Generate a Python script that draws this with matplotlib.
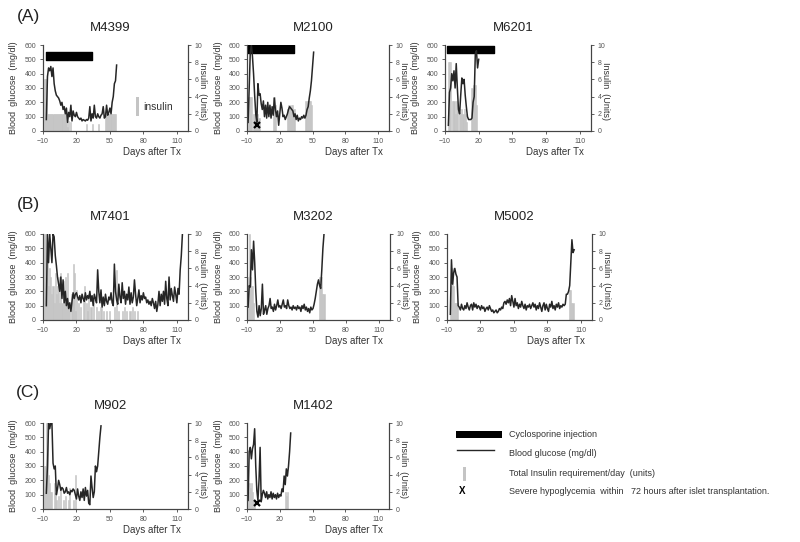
import numpy as np
import matplotlib
matplotlib.use("Agg")
import matplotlib.pyplot as plt
from matplotlib.patches import Rectangle
from matplotlib.lines import Line2D

plt.rcParams['font.family'] = ['Liberation Sans', 'DejaVu Sans']

# blood glucose (mg/dl), one value per day starting at *_g0
# insulin (units/day), one value per day starting at *_i0
m4399_g0 = -7
m4399_glucose = [80, 380, 440, 420, 450, 380, 440, 330, 280, 250, 240, 230, 210, 180, 200, 150,
                 170, 120, 160, 60, 130, 100, 180, 70, 140, 110, 100, 130, 100, 90, 80, 90, 70,
                 80, 75, 70, 80, 75, 90, 170, 70, 120, 90, 180, 100, 90, 120, 100, 90, 110, 120,
                 170, 90, 100, 180, 110, 130, 160, 120, 200, 240, 330, 350, 460]
m4399_i0 = -9
m4399_insulin = [6, 6, 6, 2, 2, 2, 2, 2, 2, 2, 2, 2, 2, 2, 2, 2, 2, 2, 2, 2, 1, 0.5, 1.2, 0, 1,
                 0, 0, 0, 0, 0, 0, 0, 0, 0, 0, 0, 0, 0, 0.8, 0, 0, 0, 0, 0.8, 0, 0, 0, 0, 0, 0.8,
                 0, 0, 0, 0, 0, 2, 2, 2, 2, 2, 2, 2, 2, 2, 2]
m4399_cyclo = (-7, 34)

m2100_g0 = -9
m2100_glucose = [60, 300, 550, 600, 520, 400, 250, 120, 60, 330, 250, 260, 190, 150, 210, 100,
                 180, 90, 200, 100, 180, 90, 170, 110, 230, 150, 100, 140, 40, 120, 200, 160,
                 100, 110, 80, 100, 120, 150, 170, 160, 150, 140, 100, 120, 80, 110, 70, 90, 80,
                 100, 90, 110, 90, 110, 150, 170, 230, 280, 350, 450, 550]
m2100_i0 = -9
m2100_insulin = [4, 4, 4, 4, 0, 2, 2, 2, 2, 2, 1.5, 0, 0, 0, 0, 0, 0, 0, 0, 0, 0, 0, 0, 4, 4, 3,
                 0, 0, 0, 0, 0, 0, 0, 0, 0, 0, 2.5, 3, 3, 2.5, 3, 3, 2.5, 0, 0, 0, 0, 0, 0, 0, 0,
                 0, 0, 3.5, 3.5, 3.5, 3.5, 3.5, 3]
m2100_cyclo = (-9, 33)
m2100_hypo = (-1, 40)

m6201_g0 = -7
m6201_glucose = [40, 270, 300, 400, 350, 420, 300, 470, 300, 150, 120, 250, 370, 330, 360, 250,
                 170, 100, 80, 80, 80, 90, 200, 240, 540, 560, 440, 500]
m6201_i0 = -7
m6201_insulin = [8, 8, 8, 0, 3.5, 3.5, 2, 3.5, 3, 0, 2.5, 2, 2.5, 2, 2.5, 2, 1, 0, 0, 0, 0, 5,
                 5.3, 5, 5.3, 3]
m6201_cyclo = (-8, 34)

m7401_g0 = -7
m7401_glucose = [100, 600, 400, 600, 500, 400, 600, 580, 450, 380, 300, 250, 200, 300, 150, 280,
                 120, 200, 100, 150, 80, 120, 60, 130, 190, 150, 180, 190, 160, 140, 170, 120,
                 180, 150, 130, 190, 140, 170, 150, 200, 130, 170, 100, 180, 150, 120, 350, 200,
                 120, 210, 90, 160, 100, 180, 130, 110, 160, 140, 190, 120, 100, 390, 200, 140,
                 110, 250, 160, 120, 260, 150, 200, 110, 180, 140, 230, 110, 190, 120, 160, 280,
                 180, 100, 150, 210, 120, 170, 140, 190, 150, 160, 120, 140, 110, 130, 100, 150,
                 120, 80, 130, 60, 110, 200, 100, 180, 130, 200, 110, 270, 150, 100, 300, 140,
                 220, 170, 130, 230, 180, 120, 220, 180, 350, 450, 600]
m7401_i0 = -9
m7401_insulin = [10, 10, 5, 8, 4, 6, 5, 3, 4, 2, 5.5, 3, 4, 5, 2, 5.5, 2, 4.5, 3, 5, 1.5, 5.5, 2,
                 1, 0, 3, 6.5, 5.5, 1, 3.5, 0, 2, 0, 1.5, 0, 2.5, 4, 0, 2, 1, 3, 0, 1.5, 0, 2, 0,
                 0, 1.5, 0, 1, 0, 1.5, 0, 1, 0, 0, 1, 0, 0, 1, 0, 0, 0, 1.5, 0, 5.8, 0, 1, 0, 0,
                 1, 0, 1.5, 0, 1, 0, 0, 1, 0, 1.5, 0, 1, 0, 0, 1]
m7401_cyclo = None

m3202_g0 = -9
m3202_glucose = [90, 240, 230, 490, 350, 550, 400, 200, 60, 20, 100, 30, 80, 250, 40, 70, 100,
                 40, 80, 100, 150, 80, 90, 60, 110, 70, 100, 140, 90, 100, 80, 110, 140, 90, 100,
                 80, 140, 100, 80, 90, 70, 100, 80, 90, 70, 100, 80, 90, 60, 100, 80, 110, 70,
                 90, 60, 80, 50, 90, 70, 80, 110, 150, 200, 250, 280, 240, 220, 350, 500, 600]
m3202_i0 = -9
m3202_insulin = [5, 10, 5, 4, 4, 2, 0, 0, 0, 0, 0, 0, 0, 0, 0, 0, 0, 0, 0, 0, 0, 0, 0, 0, 0, 0,
                 0, 0, 0, 0, 0, 0, 0, 0, 0, 0, 0, 0, 0, 0, 0, 0, 0, 0, 0, 0, 0, 0, 0, 0, 0, 0, 0,
                 0, 0, 0, 0, 0, 0, 0, 0, 0, 0, 0, 0, 5, 5, 5, 3, 3]
m3202_cyclo = None

m5002_g0 = -7
m5002_glucose = [40, 420, 250, 330, 360, 320, 300, 100, 90, 70, 110, 80, 70, 100, 80, 120, 90,
                 70, 100, 110, 70, 120, 90, 110, 80, 100, 90, 70, 100, 80, 90, 60, 80, 90, 70,
                 100, 80, 60, 70, 50, 60, 70, 50, 60, 80, 70, 90, 80, 120, 130, 110, 140, 120,
                 150, 100, 170, 130, 90, 150, 100, 120, 80, 110, 90, 130, 100, 80, 110, 70, 100,
                 90, 110, 80, 100, 120, 90, 110, 70, 100, 80, 120, 90, 60, 100, 120, 70, 110, 80,
                 60, 110, 90, 130, 80, 100, 70, 110, 90, 120, 80, 100, 90, 110, 100, 110, 180,
                 180, 200, 240, 400, 560, 470, 490]
m5002_i0 = -7
m5002_insulin = [2, 4, 6, 4, 2, 2, 2, 0, 0, 0, 0, 0, 0, 0, 0, 0, 0, 0, 0, 0, 0, 0, 0, 0, 0, 0, 0,
                 0, 0, 0, 0, 0, 0, 0, 0, 0, 0, 0, 0, 0, 0, 0, 0, 0, 0, 0, 0, 0, 0, 0, 0, 0, 0, 0,
                 0, 0, 0, 0, 0, 0, 0, 0, 0, 0, 0, 0, 0, 0, 0, 0, 0, 0, 0, 0, 0, 0, 0, 0, 0, 0, 0,
                 0, 0, 0, 0, 0, 0, 0, 0, 0, 0, 0, 0, 0, 0, 0, 0, 0, 0, 0, 0, 0, 0, 0, 0, 0, 0,
                 3.5, 3.5, 2, 2]
m5002_cyclo = None

m902_g0 = -7
m902_glucose = [110, 300, 600, 560, 600, 600, 320, 280, 300, 100, 140, 200, 170, 130, 150, 140,
                110, 120, 150, 110, 120, 100, 130, 120, 140, 130, 100, 70, 140, 90, 60, 120, 80,
                140, 60, 150, 90, 130, 40, 30, 230, 150, 80, 120, 300, 260, 300, 400, 500, 580]
m902_i0 = -9
m902_insulin = [5, 5, 10, 10, 4, 3, 2, 2, 0, 3, 2, 1, 0, 1.5, 0, 2.5, 0, 1, 0, 1.5, 0, 0, 1, 2.5,
                0, 0, 1, 0, 4, 0]
m902_cyclo = None

m1402_g0 = -9
m1402_glucose = [60, 400, 430, 350, 420, 450, 560, 300, 130, 60, 200, 430, 50, 100, 130, 110,
                 80, 120, 70, 100, 80, 120, 70, 110, 80, 100, 70, 110, 80, 100, 90, 140, 120,
                 230, 170, 280, 230, 300, 400, 530]
m1402_i0 = -9
m1402_insulin = [2, 3, 2.5, 3, 2, 1, 0.5, 0, 0, 0, 0, 0, 0, 0, 0, 0, 0, 0, 0, 0, 0, 0, 0, 0, 0,
                 0, 0, 0, 0, 0, 0, 0, 0, 0, 2, 1.5, 2]
m1402_cyclo = None
m1402_hypo = (-1, 40)

W, H = 800, 542
fig = plt.figure(figsize=(8, 5.42), dpi=100)

LINE_C = '#262626'
BAR_C = '#c4c4c4'
TICK_C = '#555555'


def box(x0, y0, x1, y1):
    return [x0 / W, 1 - y1 / H, (x1 - x0) / W, (y1 - y0) / H]


def panel(rect, name, g0, glucose, i0, insulin, cyclo=None, cyclo_band=(495, 60), hypo=None):
    ax = fig.add_axes(box(*rect))
    ax2 = ax.twinx()
    ax.set_zorder(ax2.get_zorder() + 1)
    ax.patch.set_visible(False)

    idays = i0 + np.arange(len(insulin))
    ax2.bar(idays, insulin, width=1.0, color=BAR_C, edgecolor=BAR_C, linewidth=0.4,
            align='center')
    gdays = g0 + np.arange(len(glucose))
    ax.plot(gdays, glucose, color=LINE_C, lw=1.1)
    if cyclo is not None:
        ax.broken_barh([(cyclo[0], cyclo[1] - cyclo[0])], cyclo_band, color='black')
    if hypo is not None:
        ax.plot([hypo[0]], [hypo[1]], marker='x', color='black', ms=5, mew=1.6)

    ax.set_xlim(-10, 120)
    ax.set_ylim(0, 600)
    ax2.set_ylim(0, 10)
    ax.set_xticks([-10, 20, 50, 80, 110])
    ax.set_yticks(range(0, 601, 100))
    ax2.set_yticks(range(0, 11, 2))
    for a in (ax, ax2):
        a.spines['top'].set_visible(False)
        for s in a.spines.values():
            s.set_linewidth(0.8)
            s.set_color('#444444')
        a.tick_params(labelsize=5, length=2.5, width=0.6, pad=2.5,
                      colors='#444444', labelcolor=TICK_C)
    ax.set_ylabel('Blood  glucose  (mg/dl)', fontsize=6.5, color='#333333')
    ax.yaxis.set_label_coords(-0.2, 0.5)
    ax.yaxis.label.set_va('center')
    ax2.set_ylabel('Insulin  (Units)', fontsize=6.5, color='#333333', rotation=270)
    ax2.yaxis.set_label_coords(1.1, 0.47)
    ax2.yaxis.label.set_va('center')
    ax.set_xlabel('Days after Tx', fontsize=7, color='#333333')
    ax.xaxis.set_label_coords(0.75, -0.245)
    ax.xaxis.label.set_va('center')
    ax.text(0.465, 1.2, name, transform=ax.transAxes, ha='center', va='center',
            fontsize=9.5, color='#222222')
    return ax


axA = panel((43, 45, 188, 131), 'M4399', m4399_g0, m4399_glucose, m4399_i0, m4399_insulin,
            cyclo=m4399_cyclo, cyclo_band=(495, 58))
panel((247, 45, 389, 131), 'M2100', m2100_g0, m2100_glucose, m2100_i0, m2100_insulin,
      cyclo=m2100_cyclo, cyclo_band=(545, 55), hypo=m2100_hypo)
panel((445, 45, 591, 131), 'M6201', m6201_g0, m6201_glucose, m6201_i0, m6201_insulin,
      cyclo=m6201_cyclo, cyclo_band=(545, 50))

panel((43, 234, 188, 320), 'M7401', m7401_g0, m7401_glucose, m7401_i0, m7401_insulin)
panel((247, 234, 390, 320), 'M3202', m3202_g0, m3202_glucose, m3202_i0, m3202_insulin)
panel((447, 234, 592, 320), 'M5002', m5002_g0, m5002_glucose, m5002_i0, m5002_insulin)

panel((43, 423, 188, 509), 'M902', m902_g0, m902_glucose, m902_i0, m902_insulin)
panel((247, 423, 389, 509), 'M1402', m1402_g0, m1402_glucose, m1402_i0, m1402_insulin,
      hypo=m1402_hypo)

# "insulin" key inside first panel
axA.add_patch(Rectangle((0.64, 0.17), 0.025, 0.22, transform=axA.transAxes,
                        color=BAR_C, lw=0))
axA.text(0.69, 0.28, 'insulin', transform=axA.transAxes, fontsize=7.5,
         va='center', ha='left', color='#333333')

# panel group letters
for lab, y in (('(A)', 17), ('(B)', 204), ('(C)', 393)):
    fig.text(28 / W, 1 - y / H, lab, fontsize=12.5, ha='center', va='center', color='#222222')

# legend
lg = fig.add_axes([0, 0, 1, 1])
lg.set_xlim(0, W)
lg.set_ylim(H, 0)
lg.axis('off')
lg.add_patch(Rectangle((456, 430.5), 46, 7, color='black', lw=0))
lg.add_line(Line2D([457, 494], [450, 450], color=LINE_C, lw=1.0))
lg.add_patch(Rectangle((462.5, 466.5), 3.5, 14, color=BAR_C, lw=0))
lg.text(462, 491.5, 'X', fontsize=7, fontweight='bold', ha='center', va='center')
legend_txt = ['Cyclosporine injection', 'Blood glucose (mg/dl)',
              'Total Insulin requirement/day  (units)',
              'Severe hypoglycemia  within   72 hours after islet transplantation.']
for t, y in zip(legend_txt, (434.5, 453.5, 473, 491.5)):
    lg.text(509, y, t, fontsize=6.5, ha='left', va='center', color='#333333')

fig.savefig('out.png', dpi=100)
